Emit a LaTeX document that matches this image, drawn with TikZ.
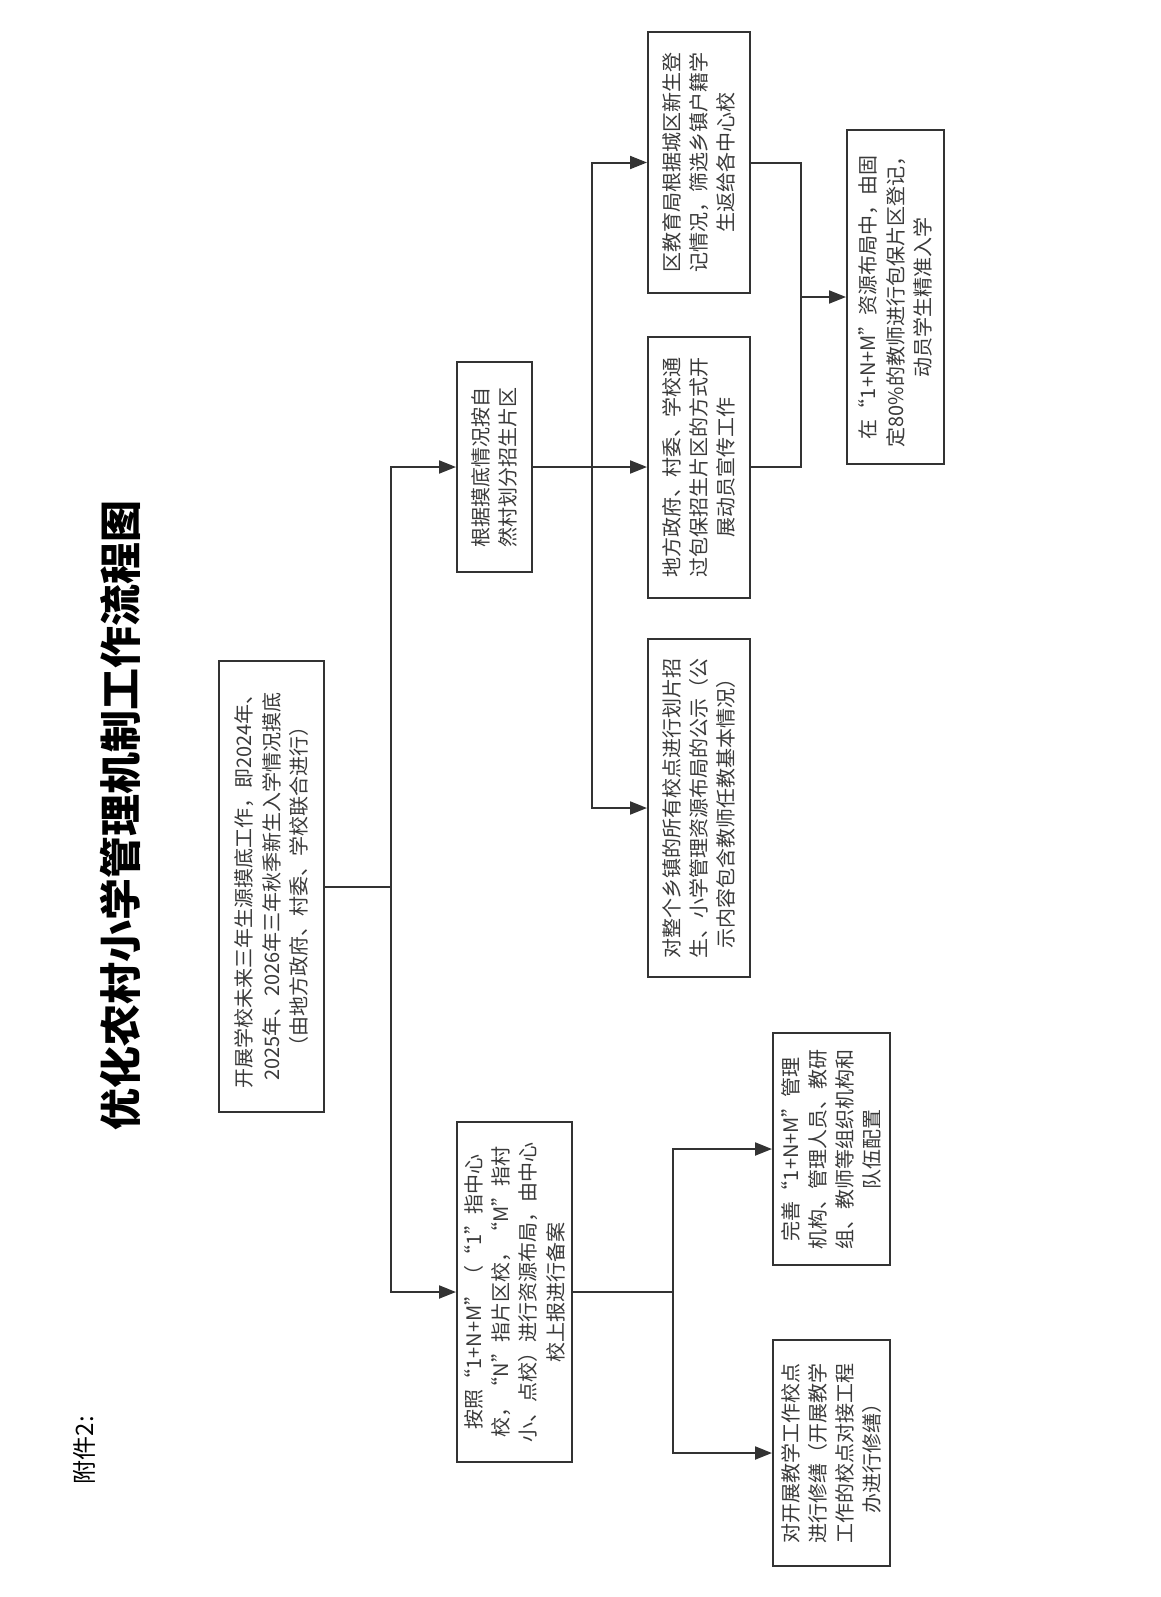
\documentclass[tikz,border=0pt]{standalone}
\usepackage{fontspec}
\setmainfont{Noto Sans CJK SC}
\usetikzlibrary{arrows.meta}
\definecolor{lncol}{HTML}{333333}
\definecolor{txcol}{HTML}{3A3A3A}
\begin{document}
\begin{tikzpicture}[x=0.5pt,y=-0.5pt,
  box/.style={draw=lncol, line width=1pt, rotate=90, align=center, inner sep=0pt,
    text=txcol, font=\fontsize{10}{13.6}\selectfont},
  conn/.style={draw=lncol, line width=1pt},
  arr/.style={draw=lncol, line width=1pt, -{Triangle[length=8.5pt,width=6.5pt]}}]
\fill[white] (0,0) rectangle (1161,1597);
\useasboundingbox (0,0) rectangle (1161,1597);

\node[rotate=90, text=black, font=\fontsize{12}{14}\selectfont] (fujian) at (84,1450) {附件2:};
\node[rotate=90, text=black, font=\fontsize{21}{24}\selectfont\bfseries] (title) at (120,815) {优化农村小学管理机制工作流程图};

\node[box, minimum width=225.5pt, minimum height=52.5pt] (A) at (271.5,886.5)
  {开展学校未来三年生源摸底工作，即2024年、\\2025年、2026年三年秋季新生入学情况摸底\\（由地方政府、村委、学校联合进行）};
\node[box, minimum width=170pt, minimum height=57.5pt] (B) at (514.5,1292)
  {按照“1+N+M”（“1”指中心\\校，“N”指片区校，“M”指村\\小、点校）进行资源布局，由中心\\校上报进行备案};
\node[box, minimum width=105pt, minimum height=37.5pt] (C) at (494.5,467)
  {根据摸底情况按自\\然村划分招生片区};
\node[box, minimum width=130.5pt, minimum height=51pt] (D) at (699,162.5)
  {区教育局根据城区新生登\\记情况，筛选乡镇户籍学\\生返给各中心校};
\node[box, minimum width=130.5pt, minimum height=51pt] (E) at (699,467)
  {地方政府、村委、学校通\\过包保招生片区的方式开\\展动员宣传工作};
\node[box, minimum width=169pt, minimum height=51pt] (F) at (699,808)
  {对整个乡镇的所有校点进行划片招\\生、小学管理资源布局的公示（公\\示内容包含教师任教基本情况）};
\node[box, minimum width=167pt, minimum height=48.5pt] (G) at (895.5,297)
  {在“1+N+M”资源布局中，由固\\定80\%的教师进行包保片区登记，\\动员学生精准入学};
\node[box, minimum width=116pt, minimum height=58.5pt] (H) at (831.5,1149)
  {完善“1+N+M”管理\\机构、管理人员、教研\\组、教师等组织机构和\\队伍配置};
\node[box, minimum width=113pt, minimum height=58.5pt] (I) at (831.5,1453)
  {对开展教学工作校点\\进行修缮（开展教学\\工作的校点对接工程\\办进行修缮）};

\coordinate (t1) at (391,886.5);
\draw[conn] (A.south) -- (t1);
\draw[arr] (t1) |- (C.north);
\draw[arr] (t1) |- (B.north);

\coordinate (t2) at (592,467);
\draw[arr] (C.south) -- (E.north);
\draw[arr] (t2) |- (D.north);
\draw[arr] (t2) |- (F.north);

\coordinate (j) at (801,297);
\draw[conn] (D.south) -| (j);
\draw[conn] (E.south) -| (j);
\draw[arr] (j) -- (G.north);

\coordinate (t3) at (673,1292);
\draw[conn] (B.south) -- (t3);
\draw[arr] (t3) |- (H.north);
\draw[arr] (t3) |- (I.north);
\end{tikzpicture}
\end{document}
